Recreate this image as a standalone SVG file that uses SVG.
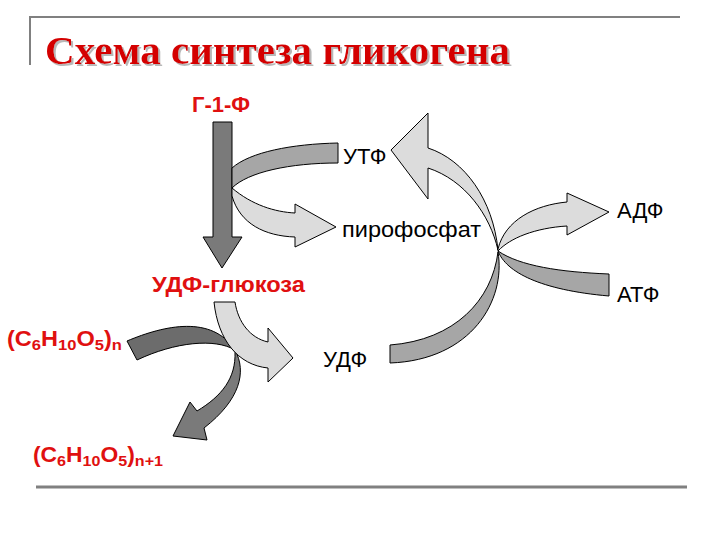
<svg xmlns="http://www.w3.org/2000/svg" width="720" height="540" viewBox="0 0 720 540">
<style>
.red{font-family:"Liberation Sans",Arial,sans-serif;font-weight:bold;fill:#e01010;font-size:22px}
.blk{font-family:"Liberation Sans",Arial,sans-serif;fill:#000;font-size:22px}
.sub{font-size:15.5px}
.arr{stroke:#000;stroke-width:1;stroke-linejoin:miter}
.dk{fill:#6c6c6c}
.dk2{fill:#7a7a7a}
.md{fill:#a6a6a6}
.lt{fill:#dcdcdc}
.frame{stroke:#808080;fill:none}
</style>
<defs>
<filter id="shadow" x="-5%" y="-20%" width="110%" height="150%">
<feOffset in="SourceAlpha" dx="2" dy="2" result="o"/>
<feFlood flood-color="#b8b8b8"/>
<feComposite in2="o" operator="in" result="s"/>
<feMerge><feMergeNode in="s"/><feMergeNode in="SourceGraphic"/></feMerge>
</filter>
</defs>
<rect width="720" height="540" fill="#fff"/>
<g id="frame">
<path class="frame" stroke-width="2" d="M30,65 V17 H680"/>
<path class="frame" stroke-width="3" d="M36,487 H687"/>
</g>
<g id="title">
<text x="45" y="64" filter="url(#shadow)" font-family="'Liberation Serif','Times New Roman',serif" font-weight="bold" font-size="40" fill="#d40000" textLength="465" lengthAdjust="spacingAndGlyphs">Схема синтеза гликогена</text>
</g>
<g id="connectors">
<path class="arr dk" d="M127,341 C165,325 212,315 235,350 C215,338 175,342 137,360 Z"/>
<path class="arr dk2" d="M235,350 C247,372 240,400 204,428 L207,440 L173,436 L190,402 L197,411 C222,396 236,378 235,352 Z"/>
<path class="arr lt" d="M214,302 L235,302 C238,322 250,338 268,342 L268,328 L293,358 L268,382 L268,368 C238,365 218,340 214,302 Z"/>
<path class="arr dk2" d="M213,122 H232 V237 H242 L222,268 L203,237 H213 Z"/>
<path class="arr md" d="M338,143 L338,163 C290,163 248,172 232,188 L232,168 C250,152 292,144 338,143 Z"/>
<path class="arr lt" d="M232,188 C252,205 275,212 295,213 L295,204 L336,227 L295,247 L295,237 C265,236 240,224 232,196 Z"/>
<path class="arr md" d="M390,345 C455,340 492,300 498,252 C506,300 472,360 390,363 Z"/>
<path class="arr lt" d="M428,148 C465,160 493,200 498,250 C490,215 465,180 428,168 L428,199 L391,150 L428,113 Z"/>
<path class="arr md" d="M609,274 C560,272 520,266 498,251 C506,272 540,290 609,296 Z"/>
<path class="arr lt" d="M498,249 C505,220 535,205 567,202 L567,193 L609,212 L567,235 L567,226 C535,228 510,238 498,251 Z"/>
</g>
<g id="n_g1p"><text class="red" x="192" y="112">Г-1-Ф</text></g>
<g id="n_udpglc"><text class="red" x="152" y="292" textLength="153" lengthAdjust="spacingAndGlyphs">УДФ-глюкоза</text></g>
<g id="n_utp"><text class="blk" x="343" y="164">УТФ</text></g>
<g id="n_ppi"><text class="blk" x="342" y="237" textLength="139" lengthAdjust="spacingAndGlyphs">пирофосфат</text></g>
<g id="n_adp"><text class="blk" x="617" y="218">АДФ</text></g>
<g id="n_atp"><text class="blk" x="617" y="302">АТФ</text></g>
<g id="n_udp"><text class="blk" x="323" y="367">УДФ</text></g>
<g id="n_poly_n"><text class="red" x="7" y="346" font-size="24" textLength="115" lengthAdjust="spacingAndGlyphs">(C<tspan class="sub" dy="4">6</tspan><tspan dy="-4">H</tspan><tspan class="sub" dy="4">10</tspan><tspan dy="-4">O</tspan><tspan class="sub" dy="4">5</tspan><tspan dy="-4">)</tspan><tspan class="sub" dy="4">n</tspan></text></g>
<g id="n_poly_n1"><text class="red" x="33" y="462" font-size="24" textLength="130" lengthAdjust="spacingAndGlyphs">(C<tspan class="sub" dy="4">6</tspan><tspan dy="-4">H</tspan><tspan class="sub" dy="4">10</tspan><tspan dy="-4">O</tspan><tspan class="sub" dy="4">5</tspan><tspan dy="-4">)</tspan><tspan class="sub" dy="4">n+1</tspan></text></g>
</svg>
